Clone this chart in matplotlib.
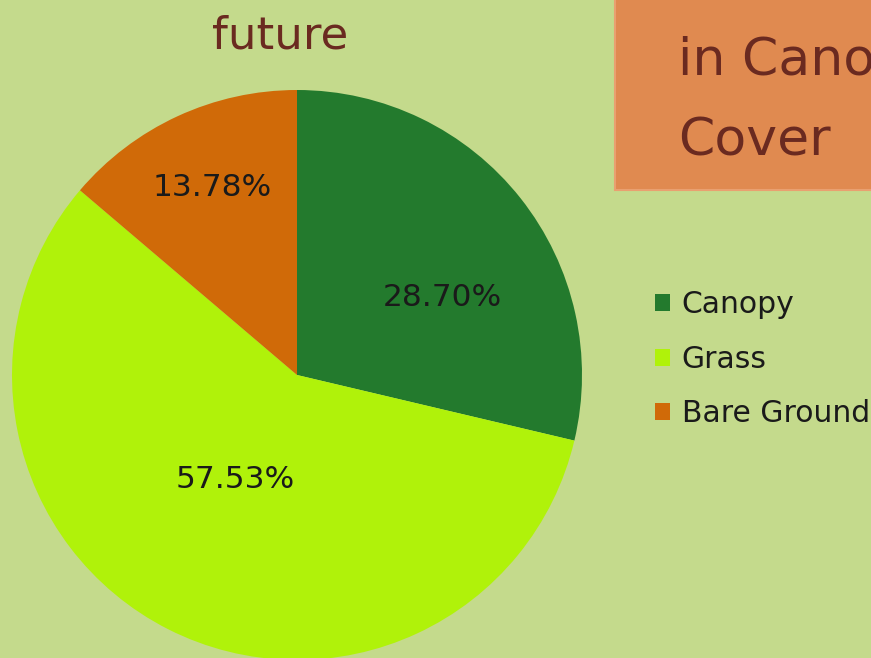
import matplotlib
matplotlib.use("Agg")
import matplotlib.pyplot as plt
from matplotlib.patches import Rectangle

categories = ["Canopy", "Grass", "Bare Ground"]
values = [28.70, 57.53, 13.78]
colors = ["#237a2d", "#b0f20a", "#d06a08"]
pct_labels = ["28.70%", "57.53%", "13.78%"]

W, H = 871, 658
fig = plt.figure(figsize=(W / 100, H / 100), dpi=100)
fig.patch.set_facecolor("#c4da8c")
ax = fig.add_axes([0, 0, 1, 1])

cx, cy, r = 297, H - 375, 285
wedges, _ = ax.pie(values, colors=colors, startangle=90, counterclock=False,
                   center=(cx, cy), radius=r, frame=True,
                   wedgeprops=dict(linewidth=0))
ax.set_xlim(0, W)
ax.set_ylim(0, H)
ax.set_aspect("equal")
ax.axis("off")

# percentage labels
label_pos = [(442, H - 297), (235, H - 479), (212, H - 188)]
for (x, y), t in zip(label_pos, pct_labels):
    ax.text(x, y, t, ha="center", va="center", fontsize=22.5, color="#1a1a1a",
            family="DejaVu Sans")

# title
ax.text(280, H - 36, "future", ha="center", va="center", fontsize=32.5,
        color="#6a2a20", family="DejaVu Sans")

# orange header box
box = Rectangle((615, H - 190), 260, 192, facecolor="#e08a50",
                edgecolor="#e9a070", linewidth=1.5)
ax.add_patch(box)
for txt, yb in [("in Canopy", 75), ("Cover", 155)]:
    t = ax.text(678, H - yb, txt, ha="left", va="baseline", fontsize=37.5,
                color="#6a2a20", family="DejaVu Sans")
    t.set_clip_path(box)

# legend
leg = ax.legend(wedges, categories, loc="upper left",
                bbox_to_anchor=(643 / W, 1 - 278 / H), frameon=False,
                fontsize=21.5, handlelength=0.5, handleheight=0.5,
                handletextpad=0.4, labelspacing=0.86, borderaxespad=0)
for t in leg.get_texts():
    t.set_color("#1a1a1a")

fig.savefig("out.png", dpi=100, facecolor=fig.get_facecolor())
